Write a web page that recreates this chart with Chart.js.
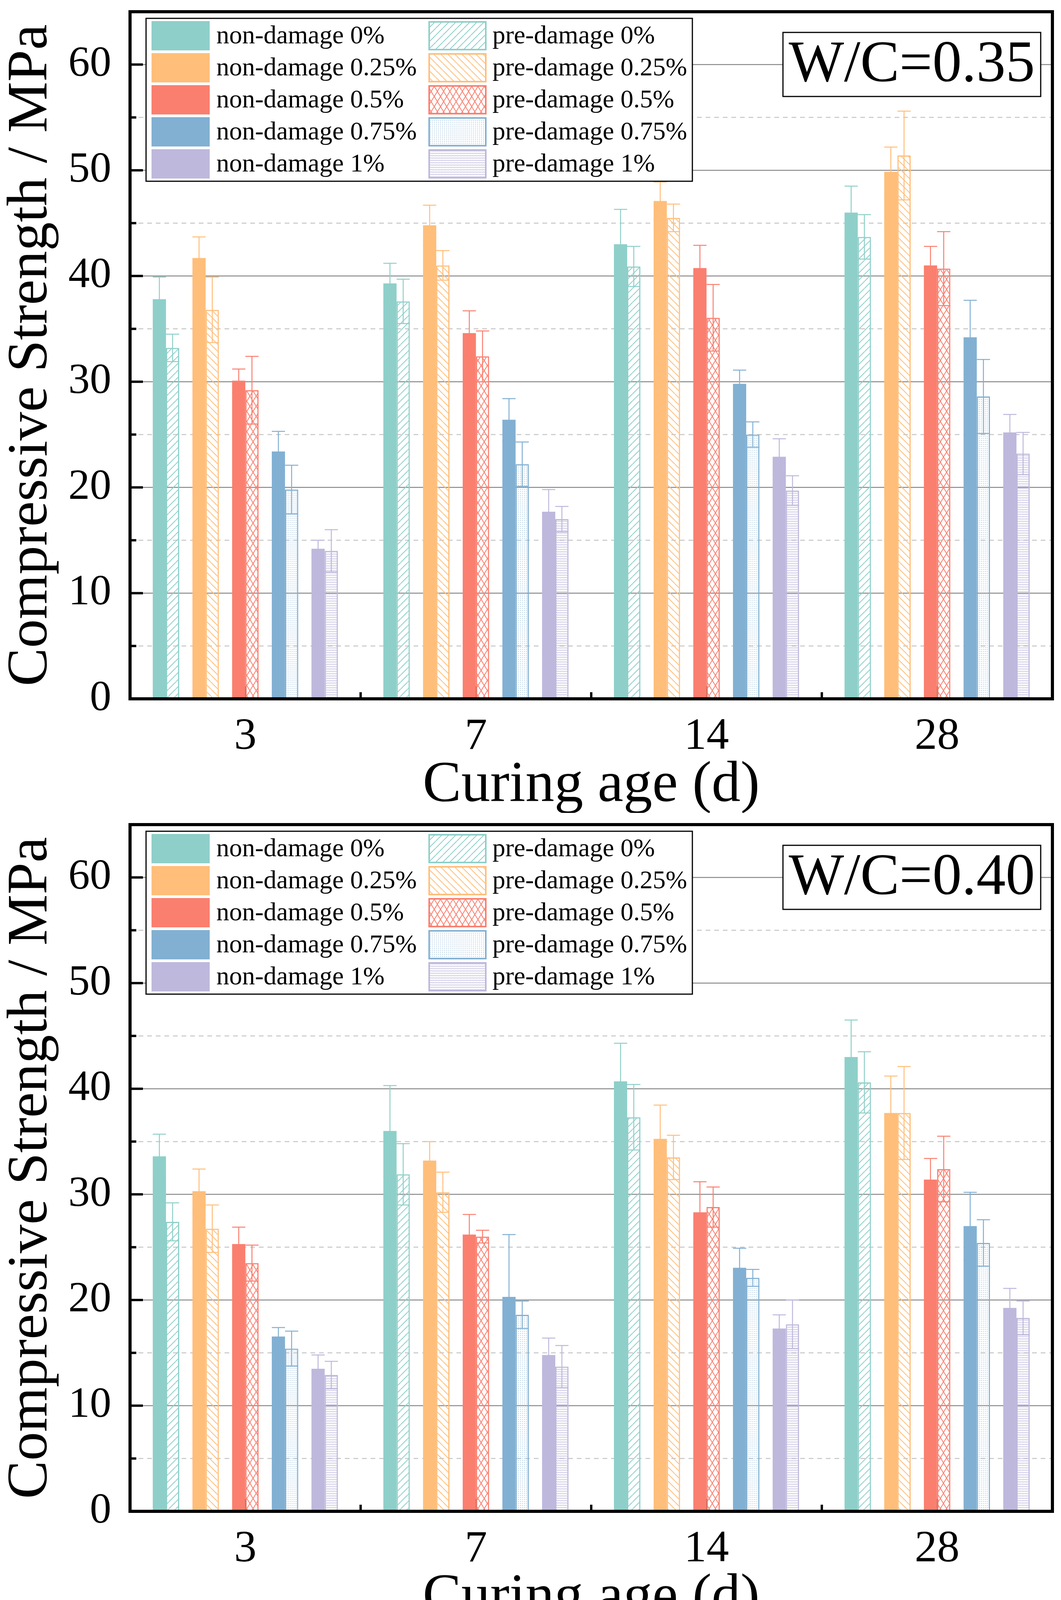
<!DOCTYPE html>
<html>
<head>
<meta charset="utf-8">
<script src="https://cdn.jsdelivr.net/npm/chart.js@4.4.1/dist/chart.umd.min.js"></script>
<style>
html, body { margin: 0; padding: 0; background: #fff; }
canvas { display: block; }
</style>
</head>
<body>
<canvas id="chartTop" width="2717" height="2081"></canvas>
<canvas id="chartBottom" width="2717" height="2116"></canvas>
<script>
// Categories and ticks
const ages = ['3', '7', '14', '28'];
const fiberPcts = ['0%', '0.25%', '0.5%', '0.75%', '1%'];
const yTicks = [0, 10, 20, 30, 40, 50, 60];

// W/C = 0.35 (rows: 0%, 0.25%, 0.5%, 0.75%, 1%; columns: 3, 7, 14, 28 d)
const wc35Non = [
    [37.8, 39.3, 43.0, 46.0],
    [41.7, 44.8, 47.1, 49.85],
    [30.1, 34.6, 40.75, 41.0],
    [23.4, 26.4, 29.8, 34.2],
    [14.2, 17.7, 22.9, 25.2]
];
const wc35NonErr = [
    [2.1, 1.9, 3.3, 2.5],
    [2.0, 1.9, 1.8, 2.35],
    [1.1, 2.1, 2.15, 1.8],
    [1.9, 2.0, 1.3, 3.5],
    [0.8, 2.1, 1.7, 1.7]
];
const wc35Pre = [
    [33.2, 37.6, 40.9, 43.7],
    [36.8, 41.0, 45.5, 51.4],
    [29.2, 32.4, 36.05, 40.7],
    [19.8, 22.2, 25.0, 28.6],
    [14.0, 17.0, 19.7, 23.2]
];
const wc35PreErr = [
    [1.3, 2.1, 1.9, 2.1],
    [3.1, 1.4, 1.3, 4.2],
    [3.2, 2.4, 3.15, 3.5],
    [2.3, 2.1, 1.2, 3.5],
    [2.0, 1.2, 1.4, 2.0]
];

// W/C = 0.40
const wc40Non = [
    [33.6, 36.0, 40.7, 43.0],
    [30.3, 33.2, 35.25, 37.7],
    [25.3, 26.2, 28.3, 31.4],
    [16.55, 20.3, 23.05, 27.0],
    [13.5, 14.8, 17.3, 19.25]
];
const wc40NonErr = [
    [2.1, 4.3, 3.6, 3.5],
    [2.1, 1.8, 3.2, 3.5],
    [1.6, 1.9, 2.9, 2.0],
    [0.85, 5.9, 1.85, 3.2],
    [1.3, 1.6, 1.3, 1.85]
];
const wc40Pre = [
    [27.4, 31.9, 37.3, 40.6],
    [26.75, 30.2, 33.5, 37.7],
    [23.5, 26.0, 28.8, 32.4],
    [15.4, 18.6, 22.1, 25.4],
    [12.9, 13.7, 17.7, 18.3]
];
const wc40PreErr = [
    [1.8, 2.9, 3.1, 2.9],
    [2.25, 1.9, 2.1, 4.4],
    [1.7, 0.6, 1.9, 3.1],
    [1.65, 1.3, 0.8, 2.2],
    [1.3, 2.0, 2.3, 1.6]
];

const colors = ['#8ECFC9', '#FFBE7A', '#FA7F6F', '#82B0D2', '#BEB8DC'];
const patternKinds = ['slash', 'backslash', 'cross', 'dots', 'wave'];

const FONT = "'Liberation Serif', 'Times New Roman', serif";
Chart.defaults.font.family = FONT;
Chart.defaults.color = '#000';

// Hatch patterns for the pre-damage bars
function makePattern(kind, color) {
    const tile = document.createElement('canvas');
    let w = 18, h = 18;
    if (kind === 'cross') { w = 16; h = 26; }
    if (kind === 'dots') { w = 5; h = 5; }
    if (kind === 'wave') { w = 8; h = 6; }
    tile.width = w;
    tile.height = h;
    const c = tile.getContext('2d');
    c.strokeStyle = color;
    c.fillStyle = color;
    c.lineWidth = 2;
    c.beginPath();
    if (kind === 'slash' || kind === 'cross') {
        for (let k = -1; k <= 1; k++) {
            c.moveTo(k * w, h);
            c.lineTo((k + 1) * w, 0);
        }
    }
    if (kind === 'backslash' || kind === 'cross') {
        for (let k = -1; k <= 1; k++) {
            c.moveTo(k * w, 0);
            c.lineTo((k + 1) * w, h);
        }
    }
    c.stroke();
    if (kind === 'dots') {
        c.globalAlpha = 0.85;
        c.fillRect(2, 2, 1.8, 1.8);
    }
    if (kind === 'wave') {
        c.lineWidth = 1.1;
        c.globalAlpha = 0.9;
        c.beginPath();
        c.moveTo(0, 4);
        c.lineTo(2, 1.5);
        c.lineTo(4, 4);
        c.lineTo(6, 1.5);
        c.lineTo(8, 4);
        c.stroke();
    }
    return c.createPattern(tile, 'repeat');
}
const patterns = colors.map((col, i) => makePattern(patternKinds[i], col));

// Grid, axis frame, inward ticks, error bars, legend box and W/C label
const decorPlugin = {
    id: 'decor',
    beforeDatasetsDraw(chart) {
        const ctx = chart.ctx;
        const ca = chart.chartArea;
        const y = chart.scales.y;
        const x = chart.scales.x;
        ctx.save();
        for (let v = 5; v <= 60; v += 5) {
            const py = y.getPixelForValue(v);
            ctx.beginPath();
            if (v % 10 === 0) {
                ctx.strokeStyle = '#8a8a8a';
                ctx.setLineDash([]);
            } else {
                ctx.strokeStyle = '#c6c6c6';
                ctx.setLineDash([12, 10]);
            }
            ctx.lineWidth = 2.5;
            ctx.moveTo(ca.left, py);
            ctx.lineTo(ca.right, py);
            ctx.stroke();
        }
        ctx.setLineDash([]);
        ctx.strokeStyle = '#000';
        ctx.lineWidth = 6;
        for (let v = 5; v <= 60; v += 5) {
            const py = y.getPixelForValue(v);
            const len = v % 10 === 0 ? 33 : 16;
            ctx.beginPath();
            ctx.moveTo(ca.left, py);
            ctx.lineTo(ca.left + len, py);
            ctx.stroke();
        }
        const centers = ages.map((a, i) => x.getPixelForValue(i));
        centers.forEach((cx, i) => {
            ctx.beginPath();
            ctx.moveTo(cx, ca.bottom);
            ctx.lineTo(cx, ca.bottom - 32);
            ctx.stroke();
            if (i < centers.length - 1) {
                const bx = (cx + centers[i + 1]) / 2;
                ctx.beginPath();
                ctx.moveTo(bx, ca.bottom);
                ctx.lineTo(bx, ca.bottom - 17);
                ctx.stroke();
            }
        });
        ctx.restore();
    },
    afterDatasetsDraw(chart) {
        const ctx = chart.ctx;
        const ca = chart.chartArea;
        const y = chart.scales.y;
        ctx.save();
        chart.data.datasets.forEach((ds, i) => {
            if (ds.spacer) return;
            const meta = chart.getDatasetMeta(i);
            ctx.strokeStyle = ds.seriesColor;
            ctx.lineWidth = 2.5;
            meta.data.forEach((bar, j) => {
                const v = ds.data[j];
                const e = ds.errors[j];
                const top = y.getPixelForValue(v + e);
                const bot = y.getPixelForValue(v - e);
                const half = bar.width / 2;
                ctx.beginPath();
                ctx.moveTo(bar.x, top);
                ctx.lineTo(bar.x, bot);
                ctx.moveTo(bar.x - half, top);
                ctx.lineTo(bar.x + half, top);
                ctx.moveTo(bar.x - half, bot);
                ctx.lineTo(bar.x + half, bot);
                ctx.stroke();
            });
        });
        ctx.strokeStyle = '#000';
        ctx.lineWidth = 8;
        ctx.strokeRect(ca.left, ca.top, ca.right - ca.left, ca.bottom - ca.top);
        ctx.restore();
    },
    afterDraw(chart, args, opts) {
        const ctx = chart.ctx;
        const ca = chart.chartArea;
        ctx.save();
        // legend
        const lx = ca.left + 41, ly = ca.top + 17, lw = 1399, lh = 417;
        ctx.fillStyle = '#fff';
        ctx.fillRect(lx, ly, lw, lh);
        ctx.strokeStyle = '#000';
        ctx.lineWidth = 3;
        ctx.strokeRect(lx, ly, lw, lh);
        const items = chart.data.datasets.filter(ds => !ds.spacer);
        items.forEach((ds, k) => {
            const col = ds.hatched ? 1 : 0;
            const row = Math.floor(k / 2);
            const sx = lx + (col === 0 ? 14 : 723);
            const sy = ly + 7 + row * 82;
            if (ds.hatched) {
                ctx.fillStyle = ds.backgroundColor;
                ctx.fillRect(sx, sy, 149, 75);
                ctx.strokeStyle = ds.seriesColor;
                ctx.lineWidth = 4;
                ctx.strokeRect(sx + 2, sy + 2, 145, 71);
            } else {
                ctx.fillStyle = ds.seriesColor;
                ctx.fillRect(sx, sy, 149, 75);
            }
            ctx.fillStyle = '#000';
            ctx.font = '66px ' + FONT;
            ctx.textAlign = 'left';
            ctx.textBaseline = 'middle';
            ctx.fillText(ds.label, lx + (col === 0 ? 180 : 887), sy + 40);
        });
        // W/C label box
        const bx = ca.left + 1672, by = ca.top + 53, bw = 660, bh = 164;
        ctx.fillStyle = '#fff';
        ctx.fillRect(bx, by, bw, bh);
        ctx.strokeStyle = '#000';
        ctx.lineWidth = 3;
        ctx.strokeRect(bx, by, bw, bh);
        ctx.fillStyle = '#000';
        ctx.font = '150px ' + FONT;
        ctx.textAlign = 'center';
        ctx.textBaseline = 'middle';
        ctx.fillText(opts.wc, bx + bw / 2, by + bh / 2 + 4);
        ctx.restore();
    }
};

function buildChart(canvasId, nonVals, nonErr, preVals, preErr, wcText, geo) {
    const datasets = [];
    fiberPcts.forEach((p, i) => {
        datasets.push({
            label: 'non-damage ' + p,
            data: nonVals[i],
            errors: nonErr[i],
            seriesColor: colors[i],
            backgroundColor: colors[i],
            borderWidth: 0
        });
        datasets.push({
            label: 'pre-damage ' + p,
            data: preVals[i],
            errors: preErr[i],
            seriesColor: colors[i],
            backgroundColor: patterns[i],
            borderColor: colors[i],
            borderWidth: 3,
            hatched: true
        });
        // empty slot gives the gap between pairs
        if (i < fiberPcts.length - 1) {
            datasets.push({ label: '', data: ages.map(() => null), spacer: true });
        }
    });

    return new Chart(document.getElementById(canvasId), {
        type: 'bar',
        data: { labels: ages, datasets: datasets },
        options: {
            responsive: false,
            animation: false,
            devicePixelRatio: 1,
            layout: { padding: { top: geo.top, right: 22, left: 0, bottom: 0 } },
            datasets: { bar: { barPercentage: 1, categoryPercentage: 0.803 } },
            plugins: {
                legend: { display: false },
                tooltip: { enabled: false },
                decor: { wc: wcText }
            },
            scales: {
                x: {
                    grid: { display: false },
                    border: { display: false },
                    ticks: { color: '#000', font: { size: 115 }, padding: 21 },
                    title: {
                        display: true,
                        text: 'Curing age (d)',
                        color: '#000',
                        font: { size: 148, lineHeight: 0.924 },
                        padding: { top: 0, bottom: geo.titlePad }
                    },
                    afterFit: s => {
                        s.height = geo.xHeight;
                        s.paddingLeft = 0;
                        s.paddingRight = 0;
                    }
                },
                y: {
                    min: 0,
                    max: 65,
                    afterBuildTicks: s => { s.ticks = yTicks.map(v => ({ value: v })); },
                    grid: { display: false },
                    border: { display: false },
                    ticks: { color: '#000', font: { size: 110 }, padding: 40 },
                    title: {
                        display: true,
                        text: 'Compressive Strength / MPa',
                        color: '#000',
                        font: { size: 147, lineHeight: 1 },
                        padding: { top: 7, bottom: 0 }
                    },
                    afterFit: s => {
                        s.width = 333;
                        s.paddingTop = 0;
                        s.paddingBottom = 0;
                    }
                }
            }
        },
        plugins: [decorPlugin]
    });
}

buildChart('chartTop', wc35Non, wc35NonErr, wc35Pre, wc35PreErr, 'W/C=0.35',
    { top: 30, xHeight: 292, titlePad: 0 });
buildChart('chartBottom', wc40Non, wc40NonErr, wc40Pre, wc40PreErr, 'W/C=0.40',
    { top: 30, xHeight: 328, titlePad: 36 });
</script>
</body>
</html>
